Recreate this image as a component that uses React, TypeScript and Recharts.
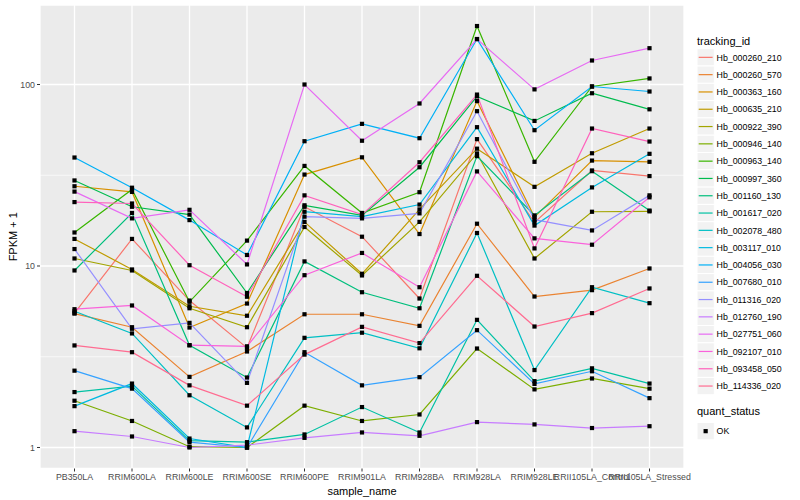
import React from "react";
import { LineChart, Line, XAxis, YAxis, CartesianGrid, Label } from "recharts";

const sampleNames = [
  "PB350LA", "RRIM600LA", "RRIM600LE", "RRIM600SE", "RRIM600PE", "RRIM901LA",
  "RRIM928BA", "RRIM928LA", "RRIM928LE", "RRII105LA_Control", "RRII105LA_Stressed",
];

const trackingIds = [
  "Hb_000260_210", "Hb_000260_570", "Hb_000363_160", "Hb_000635_210", "Hb_000922_390",
  "Hb_000946_140", "Hb_000963_140", "Hb_000997_360", "Hb_001160_130", "Hb_001617_020",
  "Hb_002078_480", "Hb_003117_010", "Hb_004056_030", "Hb_007680_010", "Hb_011316_020",
  "Hb_012760_190", "Hb_027751_060", "Hb_092107_010", "Hb_093458_050", "Hb_114336_020",
];

// FPKM + 1, one array per tracking_id, in sample order
const hb_000260_210 = [5.5, 14.1, 6.45, 3.54, 21.2, 14.5, 6.62, 50, 17.4, 33.6, 31.3];
const hb_000260_570 = [5.47, 4.6, 2.45, 3.38, 5.42, 5.42, 4.68, 17.1, 6.79, 7.36, 9.69];
const hb_000363_160 = [27.5, 25.6, 4.58, 6.21, 31.9, 39.7, 15.0, 81, 18.6, 38.1, 37.5];
const hb_000635_210 = [14.1, 9.57, 6.0, 5.32, 17.5, 9.06, 20.5, 44.3, 27.3, 41.8, 57.2];
const hb_000922_390 = [11.0, 9.45, 5.85, 4.6, 16.4, 8.87, 17.5, 41.7, 11.0, 19.9, 20.0];
const hb_000946_140 = [1.81, 1.4, 1.01, 1.0, 1.7, 1.4, 1.52, 3.51, 2.09, 2.4, 2.11];
const hb_000963_140 = [15.3, 26.4, 6.35, 13.8, 35.6, 19.6, 25.5, 210, 37.5, 97.5, 108];
const hb_000997_360 = [29.6, 21.2, 19.2, 7.1, 21.6, 19.0, 35.0, 86, 63, 89.5, 73];
const hb_001160_130 = [9.45, 19.6, 3.66, 2.43, 10.6, 7.17, 5.85, 40.3, 19.0, 33.3, 20.2];
const hb_001617_020 = [2.02, 2.18, 1.09, 1.07, 1.18, 1.67, 1.21, 5.05, 2.32, 2.73, 2.25];
const hb_002078_480 = [5.63, 4.25, 1.94, 1.29, 4.02, 4.29, 3.52, 15.2, 2.67, 7.64, 6.24];
const hb_003117_010 = [1.69, 2.25, 1.12, 1.0, 19.9, 18.7, 21.8, 58.2, 16.7, 27.1, 41.5];
const hb_004056_030 = [39.6, 27.0, 17.9, 11.5, 48.7, 60.7, 50.6, 178, 56, 97.5, 91.5];
const hb_007680_010 = [2.65, 2.11, 1.07, 1.0, 3.35, 2.2, 2.44, 4.43, 2.24, 2.63, 1.87];
const hb_011316_020 = [12.4, 4.51, 4.86, 2.27, 18.7, 18.3, 19.5, 71.3, 18.0, 15.7, 24.5];
const hb_012760_190 = [1.23, 1.15, 1.0, 1.03, 1.13, 1.21, 1.16, 1.38, 1.34, 1.28, 1.31];
const hb_027751_060 = [25.7, 18.3, 20.4, 10.2, 100, 49, 78.6, 178, 94, 135.6, 158.5];
const hb_092107_010 = [5.78, 6.06, 3.66, 3.61, 8.9, 11.8, 7.64, 33.2, 14.2, 13.1, 23.9];
const hb_093458_050 = [22.5, 22.1, 10.1, 6.77, 24.5, 19.2, 37.3, 88, 12.5, 57.2, 48.5];
const hb_114336_020 = [3.65, 3.35, 2.2, 1.7, 3.25, 4.62, 3.76, 8.83, 4.64, 5.5, 7.52];

const seriesValues = [
  hb_000260_210, hb_000260_570, hb_000363_160, hb_000635_210, hb_000922_390,
  hb_000946_140, hb_000963_140, hb_000997_360, hb_001160_130, hb_001617_020,
  hb_002078_480, hb_003117_010, hb_004056_030, hb_007680_010, hb_011316_020,
  hb_012760_190, hb_027751_060, hb_092107_010, hb_093458_050, hb_114336_020,
];

const yTicks = [1, 10, 100];
const yMinorTicks = [3.1623, 31.623];
const quantStatus = ["OK"];

// ggplot hue palette, 20 levels
const hueColors = [
  "#F8766D", "#EA8331", "#D89000", "#C09B00", "#A3A500", "#7CAE00", "#39B600", "#00BB4E",
  "#00BF7D", "#00C1A3", "#00BFC4", "#00BAE0", "#00B0F6", "#35A2FF", "#9590FF", "#C77CFF",
  "#E76BF3", "#FA62DB", "#FF62BC", "#FF6C91",
];

const rows = sampleNames.map((name, i) => {
  const row: Record<string, string | number> = { sample_name: name };
  trackingIds.forEach((id, s) => {
    row[id] = seriesValues[s][i];
  });
  return row;
});

const FONT = "'Liberation Sans', Arial, Helvetica, sans-serif";

const SquareDot = (props: any) => {
  const { cx, cy } = props;
  if (cx == null || cy == null) return null;
  return <rect x={cx - 2.1} y={cy - 2.1} width={4.2} height={4.2} fill="#000" />;
};

const Legends = () => {
  const step = 17.3;
  const top = 48.7;
  return (
    <svg width={800} height={500} style={{ position: "absolute", left: 0, top: 0, pointerEvents: "none" }}>
      <text x={697} y={44.5} fontSize={11} fontFamily={FONT} fill="#000">tracking_id</text>
      {trackingIds.map((id, i) => {
        const y = top + i * step;
        return (
          <g key={id}>
            <rect x={697} y={y} width={17.3} height={17.3} fill="#F2F2F2" stroke="#fff" strokeWidth={1} />
            <line x1={698.7} x2={712.6} y1={y + step / 2} y2={y + step / 2} stroke={hueColors[i]} strokeWidth={1.2} />
            <text x={716.6} y={y + step / 2 + 3.2} fontSize={8.8} fontFamily={FONT} fill="#000">{id}</text>
          </g>
        );
      })}
      <text x={697} y={415} fontSize={11} fontFamily={FONT} fill="#000">quant_status</text>
      {quantStatus.map((q, i) => {
        const y = 422.5 + i * step;
        return (
          <g key={q}>
            <rect x={697} y={y} width={17.3} height={17.3} fill="#F2F2F2" stroke="#fff" strokeWidth={1} />
            <rect x={697 + 8.65 - 2.1} y={y + 8.65 - 2.1} width={4.2} height={4.2} fill="#000" />
            <text x={716.6} y={y + 8.65 + 3.2} fontSize={8.8} fontFamily={FONT} fill="#000">{q}</text>
          </g>
        );
      })}
    </svg>
  );
};

export default function App() {
  const tickStyle = { fontSize: 8.8, fill: "#4D4D4D", fontFamily: FONT };
  return (
    <div style={{ position: "absolute", left: 0, top: 0, width: 800, height: 500, background: "#fff" }}>
      <LineChart
        width={800}
        height={500}
        data={rows}
        margin={{ top: 5, right: 116, bottom: 0, left: 0 }}
        style={{ fontFamily: FONT }}
      >
        <CartesianGrid
          fill="#EBEBEB"
          stroke="#FFFFFF"
          strokeWidth={0.65}
          vertical={false}
          horizontalValues={yMinorTicks}
        />
        <CartesianGrid stroke="#FFFFFF" strokeWidth={1.3} />
        <XAxis
          dataKey="sample_name"
          interval={0}
          height={31.5}
          padding={{ left: 34.5, right: 34.5 }}
          axisLine={false}
          tickLine={{ stroke: "#333333" }}
          tickSize={3}
          tickMargin={2}
          tick={tickStyle}
        >
          <Label value="sample_name" position="insideBottom" offset={5} style={{ fontSize: 11, fill: "#000", fontFamily: FONT }} />
        </XAxis>
        <YAxis
          scale="log"
          domain={[0.766, 274.2]}
          allowDataOverflow
          ticks={yTicks}
          width={40}
          axisLine={false}
          tickLine={{ stroke: "#333333" }}
          tickSize={3}
          tickMargin={2}
          tick={tickStyle}
        >
          <Label
            content={(props: any) => {
              const vb = props.viewBox || { x: 0, y: 5, width: 40, height: 463.5 };
              const cx = 13;
              const cy = vb.y + vb.height / 2;
              return (
                <text
                  x={cx}
                  y={cy}
                  transform={`rotate(-90, ${cx}, ${cy})`}
                  textAnchor="middle"
                  dominantBaseline="central"
                  fontSize={11}
                  fontFamily={FONT}
                  fill="#000"
                >
                  FPKM + 1
                </text>
              );
            }}
          />
        </YAxis>
        {trackingIds.map((id, i) => (
          <Line
            key={id}
            dataKey={id}
            stroke={hueColors[i]}
            strokeWidth={1.2}
            dot={false}
            activeDot={false}
            isAnimationActive={false}
            type="linear"
          />
        ))}
        {trackingIds.map((id) => (
          <Line
            key={id + "_pt"}
            dataKey={id}
            stroke="none"
            strokeWidth={0}
            dot={<SquareDot />}
            activeDot={false}
            isAnimationActive={false}
            legendType="none"
          />
        ))}
      </LineChart>
      <Legends />
    </div>
  );
}
